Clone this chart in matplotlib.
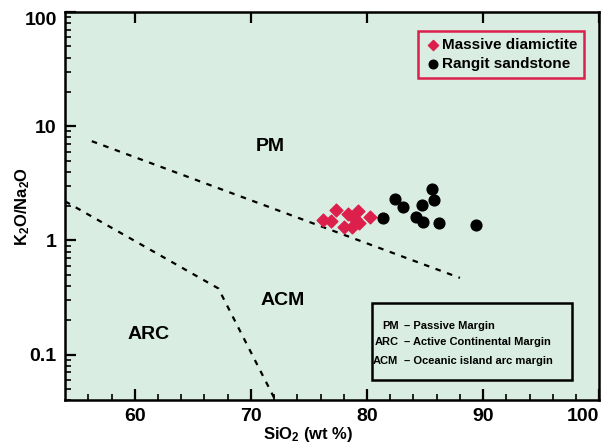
import matplotlib
matplotlib.use('Agg')
import matplotlib.pyplot as plt
from matplotlib.patches import Rectangle
from matplotlib.ticker import FixedLocator, FixedFormatter, LogLocator, NullFormatter

plt.rcParams['font.family'] = ['Liberation Sans', 'DejaVu Sans']
plt.rcParams['font.weight'] = 'bold'
plt.rcParams['mathtext.fontset'] = 'custom'
plt.rcParams['mathtext.rm'] = 'Liberation Sans:bold'
plt.rcParams['mathtext.bf'] = 'Liberation Sans:bold'
plt.rcParams['mathtext.default'] = 'bf'

# Massive diamictite
dia_sio2 = [76.2, 76.9, 77.3, 78.0, 78.4, 78.7, 79.0, 79.2, 79.3, 80.3]
dia_ratio = [1.52, 1.49, 1.86, 1.32, 1.72, 1.30, 1.55, 1.82, 1.43, 1.59]

# Rangit sandstone
ran_sio2 = [81.4, 82.4, 83.1, 84.2, 84.8, 84.75, 85.6, 85.75, 86.2, 89.4]
ran_ratio = [1.56, 2.30, 1.97, 1.59, 1.46, 2.06, 2.82, 2.26, 1.41, 1.37]

# field boundaries
pm_x = [56.3, 88.0]
pm_y = [7.4, 0.47]
arc_x = [54.0, 67.2, 72.1]
arc_y = [2.2, 0.38, 0.04]

bg = '#d9ede2'
red = '#dc1f4b'

fig = plt.figure(figsize=(6.14, 4.47), dpi=100)
ax = fig.add_axes([0.106, 0.105, 0.870, 0.868])
ax.set_facecolor(bg)

dash = (0, (2.5, 3))
ax.plot(pm_x, pm_y, color='black', lw=1.6, linestyle=dash)
ax.plot(arc_x, arc_y, color='black', lw=1.6, linestyle=dash)

ax.scatter(dia_sio2, dia_ratio, marker='D', s=42, color=red, zorder=3,
           label='Massive diamictite')
ax.scatter(ran_sio2, ran_ratio, marker='o', s=60, color='black', zorder=3,
           label='Rangit sandstone')

ax.set_yscale('log')
ax.set_xlim(54, 100)
ax.set_ylim(0.04, 100)

ax.xaxis.set_major_locator(FixedLocator([60, 70, 80, 90, 100]))
ax.xaxis.set_minor_locator(FixedLocator([56, 58, 62, 64, 66, 68, 72, 74, 76, 78,
                                         82, 84, 86, 88, 92, 94, 96, 98]))
ax.yaxis.set_major_locator(FixedLocator([0.1, 1, 10, 100]))
ax.yaxis.set_major_formatter(FixedFormatter(['0.1', '1', '10', '100']))
ax.yaxis.set_minor_locator(LogLocator(base=10, subs=range(2, 10)))
ax.yaxis.set_minor_formatter(NullFormatter())

ax.tick_params(which='major', direction='in', length=8, width=1.6, labelsize=14,
               pad=6, top=True, right=False)
ax.tick_params(which='minor', direction='in', length=4, width=1.2, top=False, right=False)
for lab in ax.get_xticklabels() + ax.get_yticklabels():
    lab.set_fontweight('bold')
ax.get_xticklabels()[-1].set_horizontalalignment('right')
ax.get_yticklabels()[-1].set_verticalalignment('top')
for sp in ax.spines.values():
    sp.set_linewidth(1.8)

ax.set_xlabel('SiO$_2$ (wt %)', fontsize=12, fontweight='bold')
ax.set_ylabel('K$_2$O/Na$_2$O', fontsize=12, fontweight='bold')
ax.xaxis.set_label_coords(0.455, -0.065)
ax.yaxis.set_label_coords(-0.062, 0.5)

ax.text(71.7, 6.7, 'PM', fontsize=14, fontweight='bold', ha='center', va='center')
ax.text(72.7, 0.30, 'ACM', fontsize=14, fontweight='bold', ha='center', va='center')
ax.text(61.2, 0.15, 'ARC', fontsize=14, fontweight='bold', ha='center', va='center')

leg = ax.legend(loc='upper right', bbox_to_anchor=(0.972, 0.951), borderaxespad=0,
                fancybox=False, framealpha=1, facecolor=bg, edgecolor=red,
                prop={'weight': 'bold', 'size': 11}, handletextpad=0.1,
                handlelength=1.0, borderpad=0.45, labelspacing=0.35, markerscale=0.8)
leg.get_frame().set_linewidth(1.8)

ax.add_patch(Rectangle((0.575, 0.052), 0.374, 0.198, transform=ax.transAxes,
                       fill=False, edgecolor='black', lw=1.8, zorder=4))
abbr = ['PM', 'ARC', 'ACM']
desc = ['Passive Margin', 'Active Continental Margin', 'Oceanic island arc margin']
rows = [0.191, 0.149, 0.100]
for a, d, yy in zip(abbr, desc, rows):
    ax.text(0.624, yy, a, transform=ax.transAxes, ha='right', va='center',
            fontsize=8, fontweight='bold')
    ax.text(0.635, yy, '\u2013 ' + d, transform=ax.transAxes, ha='left', va='center',
            fontsize=8, fontweight='bold')

fig.savefig('out.png', dpi=100)
